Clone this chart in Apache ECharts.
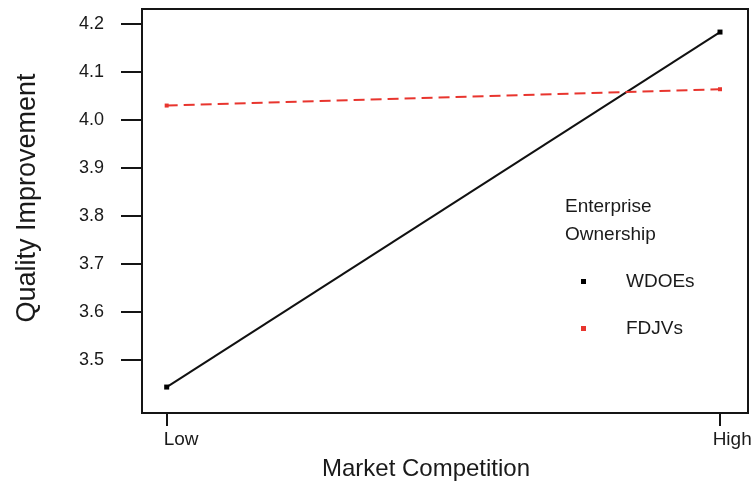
<!DOCTYPE html>
<html>
<head>
<meta charset="utf-8">
<script src="https://cdn.jsdelivr.net/npm/echarts@6/dist/echarts.min.js"></script>
<style>html,body{margin:0;padding:0;background:#fff}#c{width:756px;height:482px}</style>
</head>
<body>
<div id="c"></div>
<script>
const categories = ['Low', 'High'];
const xPositions = [0, 1];
const seriesNames = ['WDOEs', 'FDJVs'];
const wdoes = [3.444, 4.183];
const fdjvs = [4.030, 4.064];
const yTicks = [3.5, 3.6, 3.7, 3.8, 3.9, 4.0, 4.1, 4.2];
const xLabelPositions = [0.026, 1.022];
const legendTitle = 'Enterprise\nOwnership';
const xTitle = 'Market Competition';
const yTitle = 'Quality Improvement';

const FONT = '"Liberation Sans", Arial, sans-serif';
const chart = echarts.init(document.getElementById('c'), null, {renderer: 'canvas'});
chart.setOption({
  animation: false,
  backgroundColor: '#fff',
  grid: {left: 142, right: 8, top: 9, bottom: 69, show: true, borderColor: '#151515', borderWidth: 2},
  xAxis: {
    type: 'value', min: -0.0446, max: 1.0506,
    splitLine: {show: false},
    axisLine: {show: true, onZero: false, lineStyle: {color: '#151515', width: 2}},
    axisTick: {show: true, length: 13, customValues: xPositions, lineStyle: {color: '#151515', width: 2}},
    axisLabel: {
      customValues: xLabelPositions, margin: 17, color: '#1a1a1a', fontSize: 19, fontFamily: FONT,
      formatter: v => (v < 0.5 ? categories[0] : categories[1])
    }
  },
  yAxis: {
    type: 'value', min: 3.39, max: 4.231,
    splitLine: {show: false},
    axisLine: {show: true, onZero: false, lineStyle: {color: '#151515', width: 2}},
    axisTick: {show: true, length: 21, customValues: yTicks, lineStyle: {color: '#151515', width: 2}},
    axisLabel: {customValues: yTicks, margin: 38, color: '#1a1a1a', fontSize: 18, fontFamily: FONT,
      formatter: v => v.toFixed(1)}
  },
  legend: {
    orient: 'vertical', left: 581, top: 272, padding: 0, itemWidth: 5, itemHeight: 5, itemGap: 28,
    textStyle: {fontSize: 19, fontFamily: FONT, color: '#1a1a1a', padding: [0, 0, 0, 35]},
    data: [
      {name: seriesNames[0], icon: 'rect', itemStyle: {color: '#000'}},
      {name: seriesNames[1], icon: 'rect', itemStyle: {color: '#e8352e'}}
    ]
  },
  title: {
    text: legendTitle, left: 560, top: 188,
    textStyle: {fontSize: 19, fontWeight: 'normal', fontFamily: FONT, color: '#1a1a1a', lineHeight: 28}
  },
  graphic: [
    {type: 'text', x: 426, y: 469, style: {text: xTitle, font: '24px ' + FONT, fill: '#1a1a1a', align: 'center', verticalAlign: 'middle'}},
    {type: 'text', x: 28, y: 198, rotation: Math.PI / 2, style: {text: yTitle, font: '27px ' + FONT, fill: '#1a1a1a', align: 'center', verticalAlign: 'middle'}}
  ],
  series: [
    {
      name: seriesNames[0], type: 'line', symbol: 'rect', symbolSize: 5,
      data: xPositions.map((x, i) => [x, wdoes[i]]),
      lineStyle: {color: '#111', width: 2}, itemStyle: {color: '#000'}
    },
    {
      name: seriesNames[1], type: 'line', symbol: 'rect', symbolSize: 4,
      data: xPositions.map((x, i) => [x, fdjvs[i]]),
      lineStyle: {color: '#e8352e', width: 2, type: [11, 6]}, itemStyle: {color: '#e8352e'}
    }
  ]
});
</script>
</body>
</html>
